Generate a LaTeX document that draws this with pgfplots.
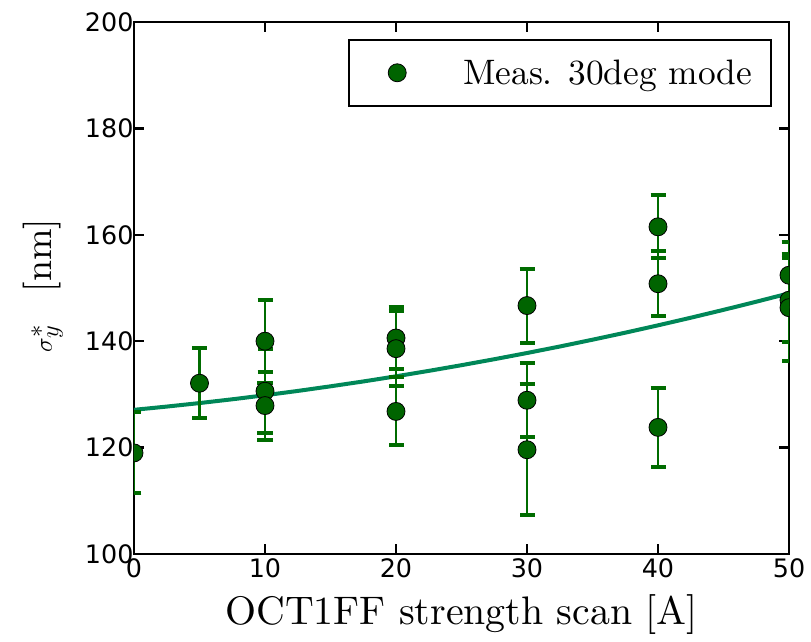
\documentclass[border=0pt]{standalone}
\usepackage{fontspec}
\setmainfont{lmroman10-regular.otf}[BoldFont=lmroman10-bold.otf, ItalicFont=lmroman10-italic.otf]
\usepackage{pgfplots}
\pgfplotsset{compat=1.18}
\usepackage{pgfplotstable}
\newfontfamily\tickfont{DejaVu Sans}
\definecolor{ptgreen}{RGB}{0,100,0}
\definecolor{errgreen}{RGB}{0,108,0}
\definecolor{fitgreen}{RGB}{0,135,88}

\pgfplotstableread{
x y err
0 119.0 7.6
5 132.1 6.6
10 140.0 7.8
10 130.6 7.9
10 127.9 6.4
20 140.6 5.9
20 138.6 7.0
20 126.8 6.4
30 146.7 6.95
30 128.9 7.0
30 119.6 12.3
40 161.5 5.9
40 150.8 6.1
40 123.8 7.4
50 152.4 6.2
50 147.7 7.9
50 146.3 10.0
}\meas

\pgfplotstableread{
x y
0 127.10
2.5 127.71
5 128.37
7.5 129.08
10 129.84
12.5 130.65
15 131.52
17.5 132.43
20 133.40
22.5 134.42
25 135.49
27.5 136.61
30 137.78
32.5 139.00
35 140.28
37.5 141.60
40 142.98
42.5 144.41
45 145.89
47.5 147.42
50 149.00
}\fit

\begin{document}
\begin{tikzpicture}
\useasboundingbox (-134bp,-88bp) rectangle (677bp,554bp);
\begin{axis}[
  scale only axis,
  width=655bp, height=532bp,
  xmin=0, xmax=50, ymin=100, ymax=200,
  xtick={0,10,20,30,40,50},
  ytick={100,120,140,160,180,200},
  minor tick num=0,
  tick align=inside,
  major tick length=10bp,
  axis line style={line width=2bp},
  every tick/.style={black, line width=2.5bp},
  ticklabel style={font=\tickfont\fontsize{25.5}{25.5}\selectfont},
  /pgf/number format/assume math mode=true,
  yticklabel style={xshift=3bp},
  xticklabel style={yshift=-1bp},
  xlabel={OCT1FF strength scan [A]},
  ylabel={$\sigma_y^{*}$\hspace{0.85em}[nm]},
  xlabel style={font=\fontsize{40}{40}\selectfont, at={(axis description cs:0.5,-0.1316)}, anchor=base},
  ylabel style={font=\fontsize{38}{38}\selectfont, at={(axis description cs:-0.1252,0.505)}, anchor=base},
  clip marker paths=true,
  legend style={at={(axis description cs:0.974,0.968)}, anchor=north east,
    draw=black, line width=1.5bp, inner xsep=8bp, inner ysep=12bp,
    nodes={inner xsep=11bp, inner ysep=8bp},
    font=\fontsize{35.5}{35.5}\selectfont},
  legend cell align=left,
]
\addplot[fitgreen, line width=4bp, forget plot] table[x=x,y=y] {\fit};
\addplot[only marks, mark=*, mark size=9bp,
  mark options={fill=ptgreen, draw=black, line width=0.8bp},
  legend image code/.code={%
    \path[draw=none] (0bp,0bp) rectangle (95bp,0bp);
    \path[draw=none] plot[only marks, mark=*, mark size=9bp,
      mark options={fill=ptgreen, draw=black, line width=0.8bp}]
      coordinates {(40bp,0bp)};},
  error bars/.cd, y dir=both, y explicit,
  error mark=|,
  error bar style={errgreen, line width=2.5bp},
  error mark options={errgreen, line width=4bp, mark size=7.5bp}]
  table[x=x, y=y, y error=err] {\meas};
\addlegendentry{Meas. 30deg mode}
\end{axis}
\end{tikzpicture}
\end{document}
